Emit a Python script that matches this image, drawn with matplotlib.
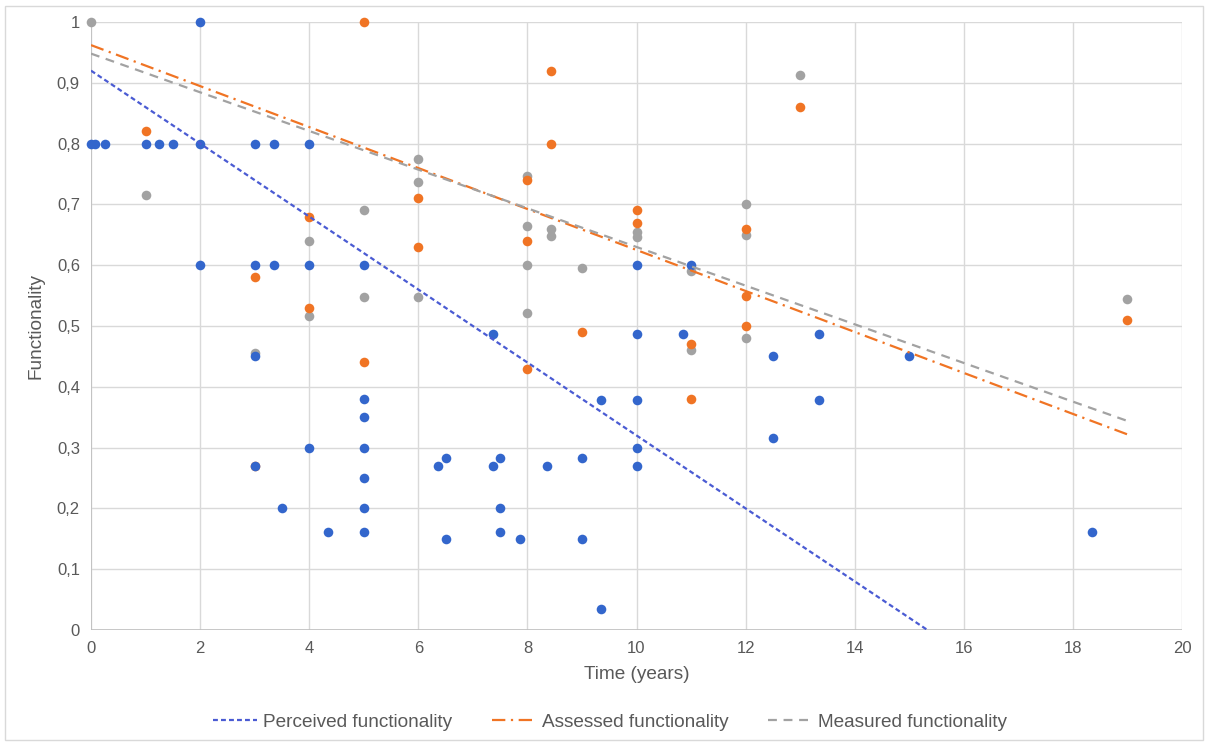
import matplotlib
matplotlib.use("Agg")
import matplotlib.pyplot as plt
from matplotlib.patches import Rectangle
import numpy as np

# ---- data ----
perceived_x = [0, 0.08, 0.25, 1, 1.25, 1.5, 2, 2, 2, 3, 3.35, 4, 3, 3.35, 4, 5,
               3, 3, 3.5, 4, 4.35, 5, 5, 5, 5, 5, 5, 6.36, 6.5, 6.5, 7.37, 7.37,
               7.5, 7.5, 7.5, 7.86, 8.36, 9, 9, 9.35, 9.35, 10, 10, 10, 10, 10,
               10.85, 11, 12.5, 12.5, 13.35, 13.35, 15, 18.35]
perceived_y = [0.8, 0.8, 0.8, 0.8, 0.8, 0.8, 0.8, 1.0, 0.6, 0.8, 0.8, 0.8, 0.6, 0.6, 0.6, 0.6,
               0.45, 0.27, 0.2, 0.3, 0.162, 0.38, 0.35, 0.3, 0.25, 0.2, 0.162, 0.27, 0.283, 0.15, 0.487, 0.27,
               0.283, 0.2, 0.162, 0.15, 0.27, 0.283, 0.15, 0.378, 0.035, 0.6, 0.487, 0.378, 0.3, 0.27,
               0.487, 0.6, 0.45, 0.316, 0.487, 0.378, 0.45, 0.162]

assessed_x = [1, 3, 3, 4, 4, 5, 5, 6, 6, 8, 8, 8, 8.43, 8.43, 9, 10, 10, 11, 11, 12, 12, 12, 13, 19]
assessed_y = [0.82, 0.58, 0.27, 0.68, 0.53, 1.0, 0.44, 0.71, 0.63, 0.74, 0.64, 0.43, 0.92, 0.8,
              0.49, 0.69, 0.67, 0.47, 0.38, 0.66, 0.55, 0.5, 0.86, 0.51]

measured_x = [0, 1, 3, 4, 4, 5, 5, 6, 6, 6, 8, 8, 8, 8, 8.43, 8.43, 9, 10, 10, 11, 11, 12, 12, 12, 13, 19]
measured_y = [1.0, 0.715, 0.455, 0.64, 0.516, 0.69, 0.548, 0.775, 0.737, 0.547, 0.747, 0.665, 0.6,
              0.522, 0.66, 0.648, 0.595, 0.655, 0.646, 0.59, 0.46, 0.70, 0.65, 0.48, 0.913, 0.545]

# linear trendlines (intercept, slope)
trend_perceived = (0.92, -0.060)
trend_assessed = (0.962, -0.0337)
trend_measured = (0.948, -0.0318)
trend_range = (0, 19)

labels = ["Perceived functionality", "Assessed functionality", "Measured functionality"]
x_ticks = list(range(0, 21, 2))
y_ticks = [0, 0.1, 0.2, 0.3, 0.4, 0.5, 0.6, 0.7, 0.8, 0.9, 1.0]
y_tick_labels = ["0", "0,1", "0,2", "0,3", "0,4", "0,5", "0,6", "0,7", "0,8", "0,9", "1"]

# ---- styling ----
plt.rcParams['font.family'] = ['Liberation Sans', 'DejaVu Sans']
BLUE = "#3366CC"
BLUE_LINE = "#4A5BD3"
ORANGE = "#F07424"
GRAY = "#A2A2A2"
TXT = "#595959"
GRID = "#D9D9D9"

fig = plt.figure(figsize=(12.08, 7.44), dpi=100)
fig.patches.append(Rectangle((0.004, 0.006), 0.992, 0.986, transform=fig.transFigure,
                             fill=False, edgecolor=GRID, linewidth=1.0))
ax = fig.add_axes([91/1208, 1 - 630/744, (1182-91)/1208, (630-22)/744])

ax.set_xlim(0, 20)
ax.set_ylim(0, 1)
ax.set_xticks(x_ticks)
ax.set_yticks(y_ticks)
ax.set_yticklabels(y_tick_labels)
ax.grid(True, color=GRID, linewidth=1.0)
ax.set_axisbelow(True)
for s in ax.spines.values():
    s.set_visible(False)
ax.axhline(0, color="#BFBFBF", linewidth=1.2, zorder=1)
ax.axvline(0, color="#BFBFBF", linewidth=1.2, zorder=1)
ax.tick_params(length=0, colors=TXT, labelsize=12, pad=8)

ms = 48
ax.scatter(measured_x, measured_y, s=ms, color=GRAY, zorder=3, clip_on=False, linewidths=0)
ax.scatter(assessed_x, assessed_y, s=ms, color=ORANGE, zorder=4, clip_on=False, linewidths=0)
ax.scatter(perceived_x, perceived_y, s=ms, color=BLUE, zorder=5, clip_on=False, linewidths=0)

xt = np.array(trend_range)
lp, = ax.plot(xt, trend_perceived[0] + trend_perceived[1]*xt, color=BLUE_LINE, lw=1.6,
              dashes=(2.2, 1.4), zorder=6)
la, = ax.plot(xt, trend_assessed[0] + trend_assessed[1]*xt, color=ORANGE, lw=1.6,
              dashes=(6, 2.5, 1, 2.5), zorder=6)
lm, = ax.plot(xt, trend_measured[0] + trend_measured[1]*xt, color=GRAY, lw=1.6,
              dashes=(4, 3), zorder=6)

ax.set_xlabel("Time (years)", color=TXT, fontsize=13.7, labelpad=7)
ax.set_ylabel("Functionality", color=TXT, fontsize=13.7, labelpad=9)

fig.legend([lp, la, lm], labels, loc="center", bbox_to_anchor=(0.505, 0.029), ncol=3,
           frameon=False, fontsize=13.7, labelcolor=TXT, handlelength=2.3, columnspacing=2.1,
           handletextpad=0.3)

fig.savefig("out.png", dpi=100)
